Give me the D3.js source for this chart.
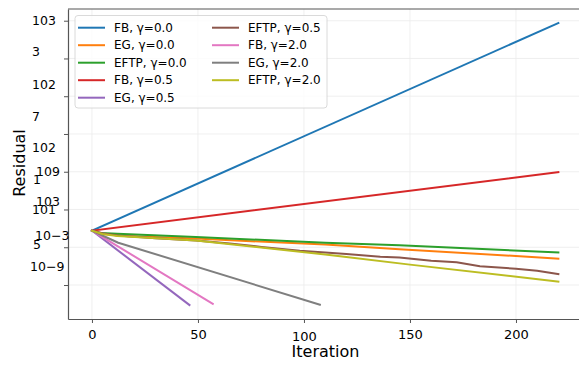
<!DOCTYPE html>
<html>
<head>
<meta charset="utf-8">
<script src="https://cdn.jsdelivr.net/npm/d3@7"></script>
<style>
  body { margin: 0; background: #fff; }
  text { font-family: "DejaVu Sans", sans-serif; fill: #000; }
</style>
</head>
<body>
<svg id="chart" width="579" height="366"></svg>
<script>
// Series: [iteration, residual level on the chart's log axis]
const fbG0   = [[0, -0.56], [220, 4.94]];
const egG0   = [[0, -0.56], [4, -0.64], [16, -0.70], [49, -0.77], [110, -0.93], [145, -1.05], [220, -1.30]];
const eftpG0 = [[0, -0.56], [4, -0.62], [12, -0.64], [49, -0.73], [110, -0.88], [145, -0.95], [220, -1.14]];
const fbG05  = [[0, -0.56], [220, 0.99]];
const egG05  = [[0, -0.56], [46, -2.53]];
const eftpG05 = [[0, -0.56], [5, -0.63], [12, -0.69], [30, -0.76], [49, -0.82], [65, -0.90], [80, -0.99],
                 [98, -1.09], [110, -1.14], [120, -1.18], [136, -1.25], [145, -1.27], [160, -1.36],
                 [172, -1.40], [183, -1.50], [200, -1.57], [210, -1.62], [220, -1.71]];
const fbG2   = [[0, -0.56], [57, -2.50]];
const egG2   = [[0, -0.56], [12.4, -0.88], [107.5, -2.52]];
const eftpG2 = [[0, -0.56], [5, -0.65], [12, -0.70], [49, -0.82], [110, -1.19], [150, -1.46], [220, -1.91]];

const seriesData = [fbG0, egG0, eftpG0, fbG05, egG05, eftpG05, fbG2, egG2, eftpG2];
const seriesNames = ["FB, γ=0.0", "EG, γ=0.0", "EFTP, γ=0.0", "FB, γ=0.5", "EG, γ=0.5",
                     "EFTP, γ=0.5", "FB, γ=2.0", "EG, γ=2.0", "EFTP, γ=2.0"];
const seriesColors = ["#1f77b4", "#ff7f0e", "#2ca02c", "#d62728", "#9467bd",
                      "#8c564b", "#e377c2", "#7f7f7f", "#bcbd22"];

// Axis ticks
const xTicks = [0, 50, 100, 150, 200];
const yTicks = [-2, -1, 0, 1, 2, 3, 4, 5];
// y tick labels as they appear (mangled exponents) and the level each sits at
const yLabelText = ["103", "3", "102", "7", "102", "109", "1", "103", "101", "10−3", "5", "10−9"];
const yLabelLevel = [5.0, 4.17, 3.32, 2.45, 1.63, 0.99, 0.78, 0.20, -0.01, -0.68, -0.94, -1.52];
const yLabelIndent = [0, 0, 0, 0, 0, 4, 1, 4, 0, 3, 1, -2];

const svg = d3.select("#chart");
const plotLeft = 68, plotRight = 580, plotTop = 9, plotBottom = 319;

const x = d3.scaleLinear().domain([-11.3, 230.2]).range([plotLeft, plotRight]);
const y = d3.scaleLinear().domain([-2.9, 5.31]).range([plotBottom, plotTop]);

// grid
svg.append("g").selectAll("line").data(xTicks).enter().append("line")
  .attr("x1", d => x(d)).attr("x2", d => x(d))
  .attr("y1", plotTop).attr("y2", plotBottom)
  .style("stroke", "#ebebeb").style("stroke-width", 0.8);
svg.append("g").selectAll("line").data(yTicks).enter().append("line")
  .attr("x1", plotLeft).attr("x2", plotRight)
  .attr("y1", d => y(d)).attr("y2", d => y(d))
  .style("stroke", "#ebebeb").style("stroke-width", 0.8);

// lines
const line = d3.line().x(d => x(d[0])).y(d => y(d[1]));
svg.append("g").selectAll("path").data(seriesData).enter().append("path")
  .attr("d", line)
  .style("fill", "none")
  .style("stroke", (d, i) => seriesColors[i])
  .style("stroke-width", 2)
  .style("stroke-linejoin", "round")
  .style("stroke-linecap", "square");

// axes
const xAxis = svg.append("g")
  .attr("transform", `translate(0,${plotBottom})`)
  .call(d3.axisBottom(x).tickValues(xTicks).tickSize(4).tickPadding(4).tickSizeOuter(0));
xAxis.selectAll("text").style("font-size", "13px").style("fill", "#000")
  .attr("dy", d => d === 100 ? "1.05em" : "0.9em");

const yAxis = svg.append("g")
  .attr("transform", `translate(${plotLeft},0)`)
  .call(d3.axisLeft(y).tickValues(yTicks).tickFormat("").tickSize(4).tickSizeOuter(0));

[xAxis, yAxis].forEach(a => {
  a.select(".domain").style("stroke", "#555").style("stroke-width", 1.2);
  a.selectAll(".tick line").style("stroke", "#555");
});

// top spine
svg.append("line").attr("x1", plotLeft).attr("x2", plotRight).attr("y1", plotTop).attr("y2", plotTop)
  .style("stroke", "#555").style("stroke-width", 1.2);

svg.append("g").selectAll("text").data(yLabelText).enter().append("text")
  .attr("x", (d, i) => 32 + yLabelIndent[i])
  .attr("y", (d, i) => y(yLabelLevel[i]))
  .attr("dy", "0.35em")
  .style("font-size", "12.5px")
  .text(d => d);

// axis titles
svg.append("text").attr("x", (plotLeft + 579) / 2 + 2).attr("y", 357)
  .attr("text-anchor", "middle").style("font-size", "16px").text("Iteration");
svg.append("text").attr("transform", "translate(25,163) rotate(-90)")
  .attr("text-anchor", "middle").style("font-size", "16px").text("Residual");

// legend
const legend = svg.append("g");
legend.append("rect").attr("x", 75).attr("y", 15.5).attr("width", 252).attr("height", 92.5)
  .attr("rx", 3)
  .style("fill", "#fff").style("fill-opacity", 0.8)
  .style("stroke", "#d0d0d0").style("stroke-width", 0.8);
const item = legend.selectAll("g.item").data(seriesNames).enter().append("g")
  .attr("transform", (d, i) => {
    const col = i < 5 ? 0 : 1;
    const row = i < 5 ? i : i - 5;
    return `translate(${col ? 212 : 78},${27.7 + row * 17.5})`;
  });
item.append("line").attr("x1", 0).attr("x2", 27).attr("y1", 0).attr("y2", 0)
  .style("stroke", (d, i) => seriesColors[i]).style("stroke-width", 2);
item.append("text").attr("x", 36).attr("dy", "0.35em")
  .style("font-size", "12px").text(d => d);
</script>
</body>
</html>
